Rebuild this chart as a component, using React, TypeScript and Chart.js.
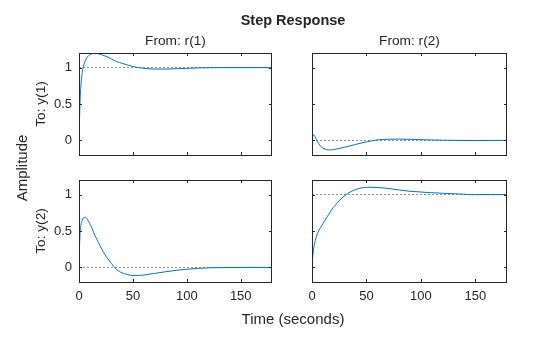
import React, { useEffect, useRef } from "react";
import { Chart, registerables } from "chart.js";

Chart.register(...registerables);

// ---- data ----
const TIME = [0, 0.5, 1, 2, 3, 4, 6, 8, 10, 12, 15, 18, 21, 25, 30, 35, 40, 45, 50, 55, 60, 70, 80, 90, 100, 110, 120, 135, 150, 165, 179];
// To y(1) from r(1)
const Y11 = [0, 0.3, 0.55, 0.8, 0.93, 1.01, 1.1, 1.15, 1.175, 1.19, 1.195, 1.19, 1.175, 1.155, 1.12, 1.082, 1.058, 1.035, 1.015, 1.0, 0.99, 0.98, 0.979, 0.984, 0.99, 0.995, 0.998, 1.0, 1.0, 1.0, 1.0];
// To y(1) from r(2)
const Y12 = [0, 0.05, 0.075, 0.075, 0.045, 0.015, -0.04, -0.08, -0.105, -0.12, -0.13, -0.13, -0.122, -0.11, -0.093, -0.075, -0.055, -0.037, -0.02, -0.005, 0.007, 0.017, 0.018, 0.015, 0.01, 0.006, 0.003, 0.0, -0.001, 0.0, 0.0];
// To y(2) from r(1)
const Y21 = [0, 0.3, 0.48, 0.6, 0.65, 0.68, 0.688, 0.655, 0.6, 0.54, 0.43, 0.345, 0.255, 0.155, 0.055, -0.03, -0.075, -0.098, -0.11, -0.11, -0.104, -0.082, -0.06, -0.04, -0.025, -0.013, -0.006, -0.002, 0.0, 0.0, 0.0];
// To y(2) from r(2)
const Y22 = [0, 0.12, 0.2, 0.3, 0.37, 0.42, 0.5, 0.55, 0.6, 0.65, 0.72, 0.79, 0.85, 0.915, 0.985, 1.035, 1.07, 1.09, 1.1, 1.1, 1.097, 1.085, 1.063, 1.045, 1.035, 1.025, 1.018, 1.008, 1.0, 1.0, 1.0];

const STEADY = [1, 0, 0, 1];
const X_TICKS = [0, 50, 100, 150];
const X_TICK_LABELS = ["0", "50", "100", "150"];
const Y_TICKS = [0, 0.5, 1];
const Y_TICK_LABELS = ["0", "0.5", "1"];
const X_MIN = 0;
const X_MAX = 179;
const Y_MIN = -0.2;
const Y_MAX = 1.2;

const TITLE = "Step Response";
const INPUT_NAMES = ["From: r(1)", "From: r(2)"];
const OUTPUT_NAMES = ["To: y(1)", "To: y(2)"];
const X_LABEL = "Time (seconds)";
const Y_LABEL = "Amplitude";

// ---- layout ----
const W = 560;
const H = 337;
const FONT = "'Liberation Sans', Arial, Helvetica, sans-serif";
const TEXT = "#262626";
const COLS = [
  { left: 79, right: 272 },
  { left: 312, right: 507 },
];
const ROWS = [
  { top: 53, bottom: 155 },
  { top: 180, bottom: 282 },
];

const boxPlugin = {
  id: "matlabBox",
  afterDatasetsDraw(chart: any) {
    const { ctx, chartArea: a, scales } = chart;
    const tl = 3;
    ctx.save();
    ctx.strokeStyle = TEXT;
    ctx.lineWidth = 1;
    ctx.beginPath();
    for (const v of X_TICKS) {
      const px = Math.round(scales.x.getPixelForValue(v)) + 0.5;
      ctx.moveTo(px, a.bottom);
      ctx.lineTo(px, a.bottom - tl);
      ctx.moveTo(px, a.top);
      ctx.lineTo(px, a.top + tl);
    }
    for (const v of Y_TICKS) {
      const py = Math.round(scales.y.getPixelForValue(v)) + 0.5;
      ctx.moveTo(a.left, py);
      ctx.lineTo(a.left + tl, py);
      ctx.moveTo(a.right, py);
      ctx.lineTo(a.right - tl, py);
    }
    ctx.stroke();
    ctx.strokeRect(a.left + 0.5, a.top + 0.5, a.right - a.left - 1 + 0.0, a.bottom - a.top);
    ctx.restore();
  },
};

function makeConfig(series: number[], steady: number, r: number, c: number): any {
  const rect = { ...COLS[c], ...ROWS[r] };
  const showX = r === 1;
  const showY = c === 0;
  return {
    type: "line",
    data: {
      datasets: [
        {
          data: TIME.map((t, i) => ({ x: t, y: series[i] })),
          borderColor: "#0072BD",
          borderWidth: 1,
          pointRadius: 0,
          cubicInterpolationMode: "monotone",
          fill: false,
        },
        {
          data: [
            { x: X_MIN, y: steady },
            { x: X_MAX, y: steady },
          ],
          borderColor: "#8a8a8a",
          borderWidth: 1,
          borderDash: [2, 2],
          pointRadius: 0,
          fill: false,
        },
      ],
    },
    options: {
      responsive: false,
      animation: false,
      events: [],
      layout: { padding: { left: 0, top: rect.top, right: W - rect.right, bottom: 0 } },
      plugins: { legend: { display: false }, tooltip: { enabled: false }, title: { display: false } },
      scales: {
        x: {
          type: "linear",
          min: X_MIN,
          max: X_MAX,
          afterBuildTicks: (s: any) => {
            s.ticks = X_TICKS.map((v) => ({ value: v }));
          },
          afterFit: (s: any) => {
            s.height = H - rect.bottom;
          },
          grid: { display: false, drawTicks: false, tickLength: 0 },
          border: { display: false },
          ticks: {
            display: showX,
            padding: 7,
            autoSkip: false,
            maxRotation: 0,
            color: TEXT,
            font: { family: FONT, size: 13 },
            callback: (v: number) => X_TICK_LABELS[X_TICKS.indexOf(v)] ?? "",
          },
        },
        y: {
          type: "linear",
          min: Y_MIN,
          max: Y_MAX,
          afterBuildTicks: (s: any) => {
            s.ticks = Y_TICKS.map((v) => ({ value: v }));
          },
          afterFit: (s: any) => {
            s.width = rect.left;
          },
          grid: { display: false, drawTicks: false, tickLength: 0 },
          border: { display: false },
          ticks: {
            display: showY,
            padding: 7,
            autoSkip: false,
            color: TEXT,
            font: { family: FONT, size: 13 },
            callback: (v: number) => Y_TICK_LABELS[Y_TICKS.indexOf(v)] ?? "",
          },
        },
      },
    },
    plugins: [boxPlugin],
  };
}

const PANELS = [
  { series: Y11, steady: STEADY[0], r: 0, c: 0 },
  { series: Y12, steady: STEADY[1], r: 0, c: 1 },
  { series: Y21, steady: STEADY[2], r: 1, c: 0 },
  { series: Y22, steady: STEADY[3], r: 1, c: 1 },
];

function Panel({ series, steady, r, c }: { series: number[]; steady: number; r: number; c: number }) {
  const ref = useRef<HTMLCanvasElement>(null);
  useEffect(() => {
    if (!ref.current) return;
    const chart = new Chart(ref.current, makeConfig(series, steady, r, c));
    return () => chart.destroy();
  }, [series, steady, r, c]);
  return (
    <canvas
      ref={ref}
      width={W}
      height={H}
      style={{ position: "absolute", left: 0, top: 0, width: W, height: H }}
    />
  );
}

const label = (x: number, y: number, size: number, rotate = false, bold = false): React.CSSProperties => ({
  position: "absolute",
  left: x,
  top: y,
  transform: `translate(-50%, -50%)${rotate ? " rotate(-90deg)" : ""}`,
  fontFamily: FONT,
  fontSize: size,
  fontWeight: bold ? "bold" : "normal",
  color: TEXT,
  whiteSpace: "nowrap",
  lineHeight: 1,
});

export default function App() {
  return (
    <div style={{ position: "absolute", left: 0, top: 0, width: W, height: H, background: "#ffffff", overflow: "hidden" }}>
      {PANELS.map((p, i) => (
        <Panel key={i} {...p} />
      ))}
      <div style={label(293, 20, 14.5, false, true)}>{TITLE}</div>
      {INPUT_NAMES.map((t, i) => (
        <div key={t} style={label((COLS[i].left + COLS[i].right) / 2, 40.5, 13.7)}>{t}</div>
      ))}
      {OUTPUT_NAMES.map((t, i) => (
        <div key={t} style={label(40.5, (ROWS[i].top + ROWS[i].bottom) / 2, 13.7, true)}>{t}</div>
      ))}
      <div style={label(20.5, 168, 15, true)}>{Y_LABEL}</div>
      <div style={label(293, 317.5, 15)}>{X_LABEL}</div>
    </div>
  );
}
